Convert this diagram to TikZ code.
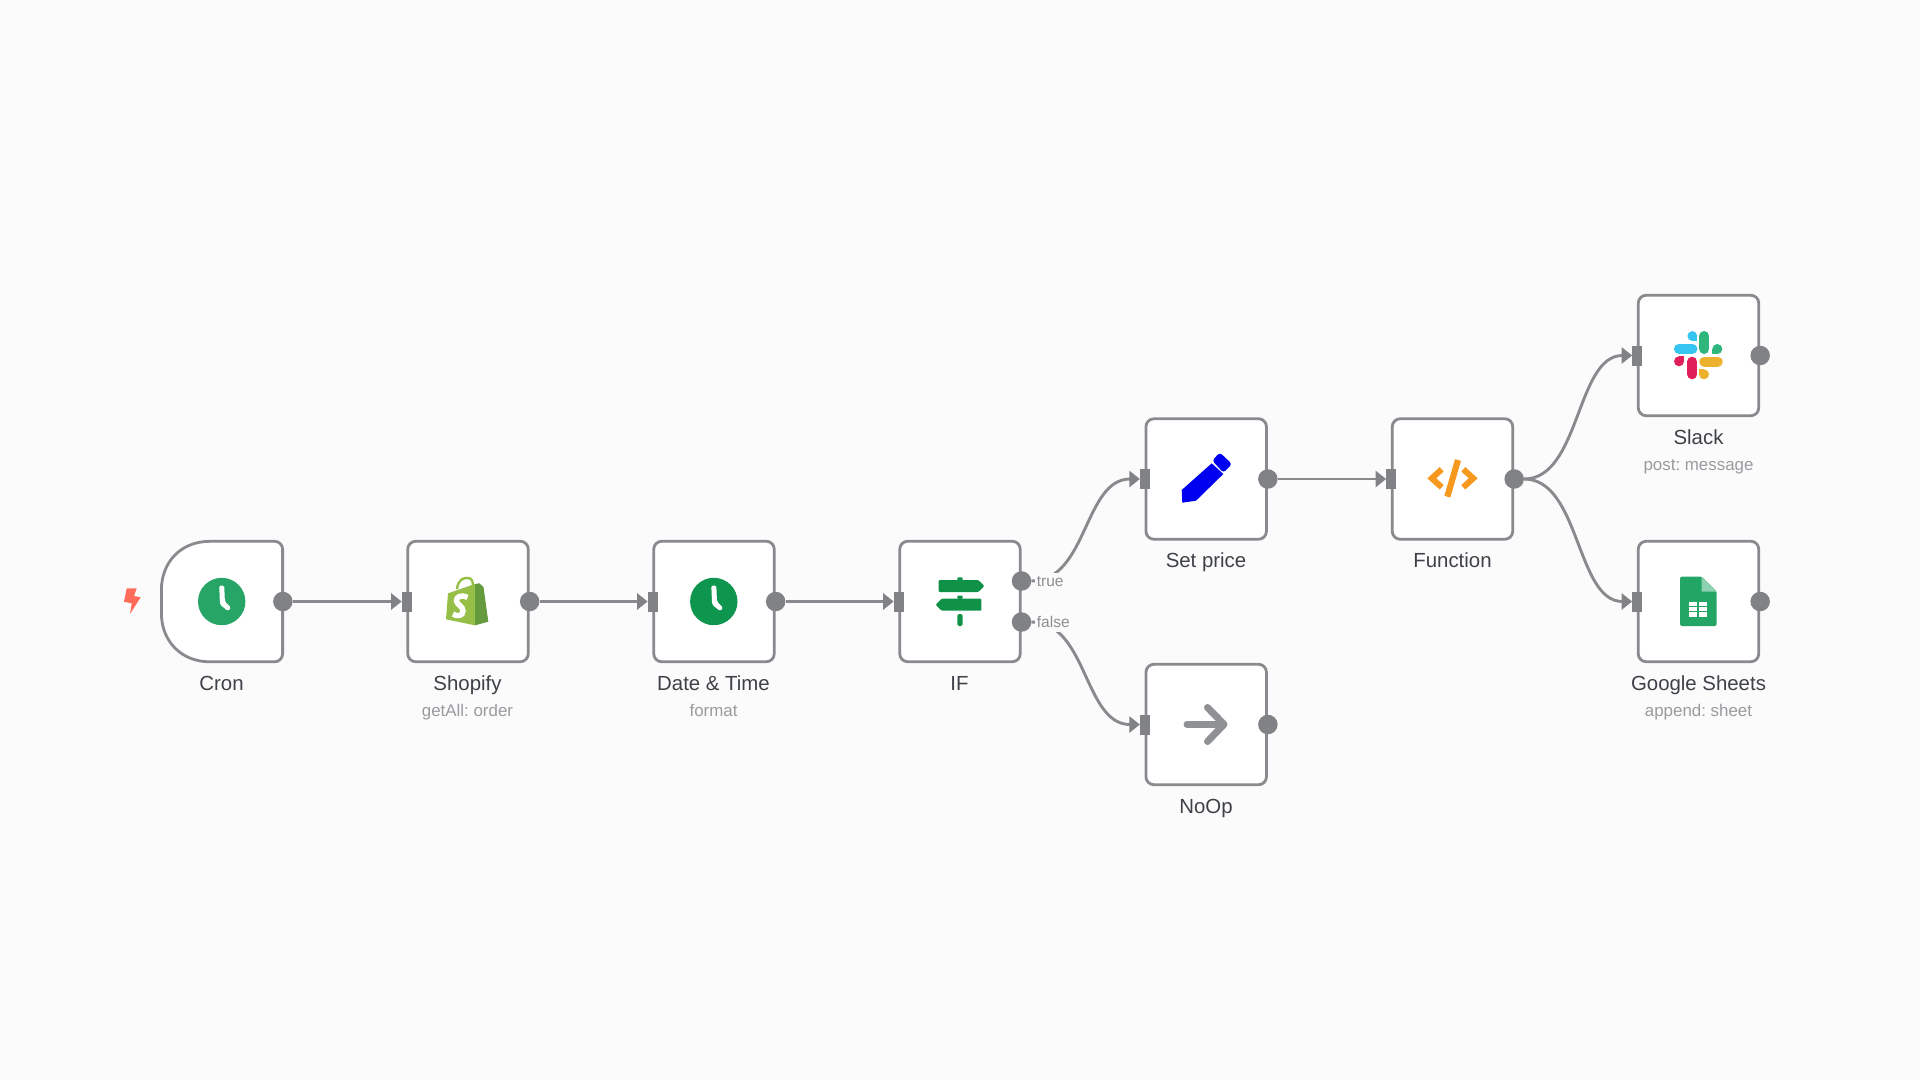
\documentclass[tikz,border=0pt]{standalone}
\usepackage{fontspec}
\setmainfont{Liberation Sans}
\usetikzlibrary{arrows.meta}
\frenchspacing
\definecolor{pagebg}{HTML}{FBFBFB}
\definecolor{linegray}{HTML}{888A8E}
\definecolor{portgray}{HTML}{808286}
\definecolor{titlegray}{HTML}{3E4147}
\definecolor{subgray}{HTML}{999B9F}
\definecolor{edgetext}{HTML}{8C8E92}
\definecolor{cronGreen}{HTML}{27A567}
\definecolor{dateGreen}{HTML}{0F964E}
\definecolor{signGreen}{HTML}{0F9148}
\definecolor{shopLight}{HTML}{95BF47}
\definecolor{shopDark}{HTML}{669A3E}
\definecolor{penBlue}{HTML}{0000F0}
\definecolor{codeOrange}{HTML}{F7981F}
\definecolor{slackBlue}{HTML}{36C5F0}
\definecolor{slackGreen}{HTML}{2EB67D}
\definecolor{slackYellow}{HTML}{ECB22E}
\definecolor{slackRed}{HTML}{E01E5A}
\definecolor{sheetGreen}{HTML}{23A566}
\definecolor{sheetFold}{HTML}{8ED1B1}
\definecolor{noopGray}{HTML}{8F9195}
\definecolor{boltRed}{HTML}{FF6D5A}
\tikzset{
  nodebox/.style={draw=linegray,line width=2.8pt,fill=white,rounded corners=8pt,minimum width=120.5pt,minimum height=120.5pt,inner sep=0pt},
  ghostbox/.style={minimum width=120.5pt,minimum height=120.5pt,inner sep=0pt},
  outport/.style={circle,fill=portgray,minimum size=19.5pt,inner sep=0pt},
  inport/.style={rectangle,fill=portgray,minimum width=10pt,minimum height=20pt,inner sep=0pt,xshift=0.5pt},
  edgeline/.style={draw=linegray,line width=2.9pt,-{Triangle[length=10.5pt,width=16pt,color=portgray]}},
  titletext/.style={anchor=base,inner sep=0pt,text=titlegray,font=\fontsize{20.4}{24}\selectfont},
  subtext/.style={anchor=base,inner sep=0pt,text=subgray,font=\fontsize{16.9}{20}\selectfont},
  edgelabel/.style={anchor=base west,fill=pagebg,inner xsep=1.7pt,inner ysep=0pt,text height=13pt,text depth=5pt,text=edgetext,font=\fontsize{15.5}{18}\selectfont},
  pill/.style={line width=10pt,line cap=round},
}
\begin{document}
\begin{tikzpicture}[x=1pt,y=-1pt]
\useasboundingbox (0,0) rectangle (1920,1080);
\fill[pagebg] (0,0) rectangle (1920,1080);

% boxes
\node[ghostbox] (cron) at (222.4,601.5) {};
\draw[draw=linegray,line width=2.8pt,fill=white]
  (210,541.3) -- (274.6,541.3) .. controls (279,541.3) and (282.6,544.9) .. (282.6,549.3)
  -- (282.6,653.8) .. controls (282.6,658.2) and (279,661.8) .. (274.6,661.8)
  -- (210,661.8) .. controls (181,661.8) and (161.4,641) .. (161.4,613)
  -- (161.4,590) .. controls (161.4,562) and (181,541.3) .. (210,541.3) -- cycle;
\node[nodebox] (shop) at (468,601.5) {};
\node[nodebox] (date) at (714,601.5) {};
\node[nodebox] (iff) at (960,601.5) {};
\node[nodebox] (setp) at (1206.2,479) {};
\node[nodebox] (func) at (1452.5,479) {};
\node[nodebox] (noop) at (1206.2,724.5) {};
\node[nodebox] (slack) at (1698.5,355.5) {};
\node[nodebox] (sheets) at (1698.5,601.5) {};

% ports
\node[outport] (cronO) at (cron.east) {};
\node[inport] (shopI) at (shop.west) {};
\node[outport] (shopO) at (shop.east) {};
\node[inport] (dateI) at (date.west) {};
\node[outport] (dateO) at (date.east) {};
\node[inport] (iffI) at (iff.west) {};
\node[outport] (iffT) at (1021.5,581) {};
\node[outport] (iffF) at (1021.5,622) {};
\node[inport] (setpI) at (setp.west) {};
\node[outport] (setpO) at (setp.east) {};
\node[inport] (funcI) at (func.west) {};
\node[outport] (funcO) at (func.east) {};
\node[inport] (noopI) at (noop.west) {};
\node[outport] (noopO) at (noop.east) {};
\node[inport] (slackI) at (slack.west) {};
\node[outport] (slackO) at (slack.east) {};
\node[inport] (sheetsI) at (sheets.west) {};
\node[outport] (sheetsO) at (sheets.east) {};

% connectors
\draw[edgeline] (cronO) -- (shopI.west);
\draw[edgeline] (shopO) -- (dateI.west);
\draw[edgeline] (dateO) -- (iffI.west);
\draw[edgeline] (setpO) -- (funcI.west);
\draw[edgeline] (iffT.east) .. controls +(56,0) and +(-56,0) .. (setpI.west);
\draw[edgeline] (iffF.east) .. controls +(56,0) and +(-56,0) .. (noopI.west);
\draw[edgeline] (funcO.east) .. controls +(56,0) and +(-56,0) .. (slackI.west);
\draw[edgeline] (funcO.east) .. controls +(56,0) and +(-56,0) .. (sheetsI.west);

% edge labels
\node[edgelabel] (ltrue) at (1035,586) {true};
\node[edgelabel] (lfalse) at (1035,627) {false};

% titles
\node[titletext] (tcron) at (221.5,690) {Cron};
\node[titletext] (tshop) at (467.5,690) {Shopify};
\node[subtext] (sshop) at (467.5,716.7) {getAll: order};
\node[titletext] (tdate) at (713.5,690) {Date \& Time};
\node[subtext] (sdate) at (713.5,716.7) {format};
\node[titletext] (tiff) at (959.5,690) {IF};
\node[titletext] (tsetp) at (1206,567) {Set price};
\node[titletext] (tfunc) at (1452.5,567) {Function};
\node[titletext] (tnoop) at (1206,813) {NoOp};
\node[titletext] (tslack) at (1698.5,444) {Slack};
\node[subtext] (sslack) at (1698.5,470.7) {post: message};
\node[titletext] (tsheets) at (1698.5,690) {Google Sheets};
\node[subtext] (ssheets) at (1698.5,716.7) {append: sheet};

% bolt
\fill[boltRed] (126.7,588.3) -- (136.7,588.3) -- (134,596) -- (140.7,597.3) -- (130,614) -- (131.7,603.3) -- (124,601.7) -- cycle;

% cron clock
\fill[cronGreen] (221.7,601.5) circle (23.7);
\fill[white,rounded corners=1.5pt] (219.2,585.5) -- (224.2,585.5) -- (224.9,601.5) -- (231,607.6) -- (228,611.2) -- (220,604.5) -- cycle;
% date clock
\fill[dateGreen] (713.8,601.5) circle (23.7);
\fill[white,rounded corners=1.5pt] (711.3,585.5) -- (716.3,585.5) -- (717,601.5) -- (723.1,607.6) -- (720.1,611.2) -- (712.1,604.5) -- cycle;

% shopify bag
\draw[shopLight,line width=2.4pt] (457,589) .. controls (458,580) and (463,577.5) .. (468,578) .. controls (472,578) and (473,582) .. (473,586);
\fill[shopLight] (448,593.3) -- (475,584) -- (475,625.3) -- (446,619.3) -- cycle;
\fill[shopDark] (475,584) -- (479.3,583.3) -- (483.5,587) -- (488.3,621.7) -- (475,625.3) -- cycle;
\draw[white,line width=5.4pt] (467.5,597.5) .. controls (461,594) and (456,597) .. (456.5,601) .. controls (457,605) and (463,606) .. (463,611) .. controls (463,616) and (457,617) .. (453,614);

% IF sign
\fill[signGreen,rounded corners=1pt] (938.7,580) -- (978.3,580) -- (984.3,586) -- (978.3,592) -- (938.7,592) -- cycle;
\fill[signGreen,rounded corners=1pt] (935.7,604.7) -- (941.7,598.7) -- (981.3,598.7) -- (981.3,610.7) -- (941.7,610.7) -- cycle;
\fill[signGreen,rounded corners=1pt] (957.3,581) -- (957.3,577.3) -- (962.7,577.3) -- (962.7,581) -- cycle;
\fill[signGreen,rounded corners=1pt] (957.3,599) -- (957.3,595.5) -- (962.7,595.5) -- (962.7,599) -- cycle;
\fill[signGreen,rounded corners=1.5pt] (957.3,614) -- (962.7,614) -- (962.7,626) -- (957.3,626) -- cycle;

% pencil
\fill[penBlue] (1181.7,490) -- (1211.7,463.3) -- (1223.3,474) -- (1196,500.7) -- (1182.3,502.7) -- cycle;
\fill[penBlue,rounded corners=3pt] (1212.2,460.5) -- (1219.8,452.5) -- (1232,464) -- (1223.5,472.8) -- cycle;

% code
\draw[codeOrange,line width=6pt] (1441.7,469.3) -- (1431.8,478.3) -- (1441.7,487.3);
\draw[codeOrange,line width=6pt] (1463.3,469.3) -- (1473.2,478.3) -- (1463.3,487.3);
\draw[codeOrange,line width=6.2pt] (1458,460) -- (1447.3,496.7);

% slack
\draw[slackBlue,pill] (1678.9,348.8) -- (1692.4,348.8);
\fill[slackBlue] (1692.3,336) circle (4.9);
\fill[slackBlue] (1692.3,336) rectangle (1697.2,340.9);
\draw[slackGreen,pill] (1704.3,336) -- (1704.3,349);
\fill[slackGreen] (1717.3,349) circle (5);
\fill[slackGreen] (1712.3,349) rectangle (1717.3,354);
\draw[slackYellow,pill] (1704.3,361.5) -- (1717.7,361.5);
\fill[slackYellow] (1704,374.3) circle (5);
\fill[slackYellow] (1699,369.3) rectangle (1704,374.3);
\draw[slackRed,pill] (1692.3,361.7) -- (1692.3,374.3);
\fill[slackRed] (1679,361.3) circle (5);
\fill[slackRed] (1679,356.3) rectangle (1684,361.3);

% sheets
\fill[sheetGreen,rounded corners=1.5pt] (1680,576.7) -- (1701.7,576.7) -- (1716.7,591.7) -- (1716.7,626) -- (1680,626) -- cycle;
\fill[sheetFold] (1701.7,576.7) -- (1716.7,591.7) -- (1701.7,591.7) -- cycle;
\fill[white] (1689.3,601.7) rectangle (1706.7,616.7);
\draw[sheetGreen,line width=1.2pt] (1689.3,606.7) -- (1706.7,606.7) (1689.3,611.7) -- (1706.7,611.7) (1698,601.7) -- (1698,616.7);

% noop
\draw[noopGray,line width=7pt,line cap=round] (1187,724.3) -- (1222,724.3);
\draw[noopGray,line width=7pt,line cap=round,line join=round] (1207.5,707.5) -- (1224,724.3) -- (1207.5,741.5);
\end{tikzpicture}
\end{document}
